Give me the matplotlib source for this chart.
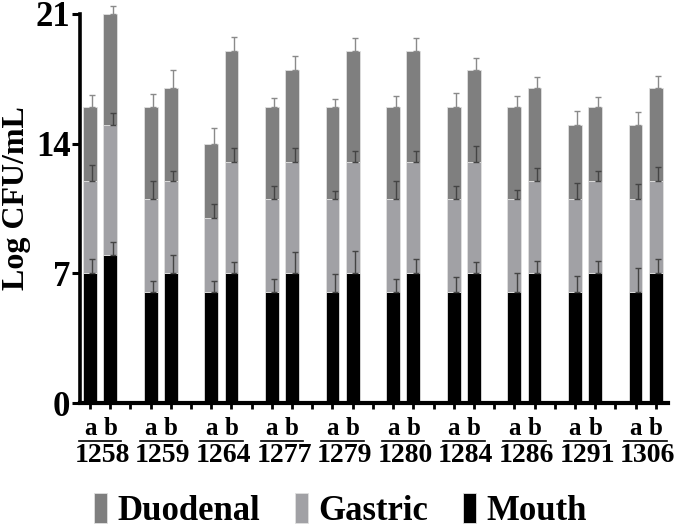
import numpy as np
import matplotlib
matplotlib.use('Agg')
import matplotlib.pyplot as plt
from matplotlib.transforms import blended_transform_factory

strains = ['1258', '1259', '1264', '1277', '1279', '1280', '1284', '1286', '1291', '1306']
# per strain: [a, b]
mouth = [[7, 8], [6, 7], [6, 7], [6, 7], [6, 7], [6, 7], [6, 7], [6, 7], [6, 7], [6, 7]]
gastric = [[5, 7], [5, 5], [4, 6], [5, 6], [5, 6], [5, 6], [5, 6], [5, 5], [5, 5], [5, 5]]
duodenal = [[4, 6], [5, 5], [4, 6], [5, 5], [5, 6], [5, 6], [5, 5], [5, 5], [4, 4], [4, 5]]
mouth_err = [[0.78, 0.7], [0.58, 1.0], [0.58, 0.6], [0.68, 1.13], [0.95, 1.2],
             [0.68, 0.8], [0.8, 0.6], [1.0, 0.65], [0.85, 0.65], [1.28, 0.8]]
gastric_err = [[0.86, 0.65], [1.0, 0.5], [0.72, 0.77], [0.7, 0.77], [0.45, 0.6],
               [1.0, 0.6], [0.7, 0.86], [0.5, 0.68], [0.88, 0.5], [0.83, 0.74]]
duodenal_err = [[0.65, 0.45], [0.7, 1.0], [0.86, 0.77], [0.45, 0.74], [0.4, 0.68],
                [0.6, 0.72], [0.74, 0.6], [0.56, 0.6], [0.76, 0.5], [0.7, 0.67]]
sub_labels = ['a', 'b']

plt.rcParams['font.family'] = ['Liberation Serif', 'DejaVu Serif']
plt.rcParams['font.weight'] = 'bold'
plt.rcParams['axes.labelweight'] = 'bold'

m = np.array(mouth, float).ravel()
g = np.array(gastric, float).ravel()
d = np.array(duodenal, float).ravel()
me = np.array(mouth_err).ravel()
ge = np.array(gastric_err).ravel()
de = np.array(duodenal_err).ravel()

n = len(strains)
x = np.array([[3 * i, 3 * i + 1] for i in range(n)], float).ravel()
w = 0.68

fig = plt.figure(figsize=(6.85, 5.3), dpi=100)
ax = fig.add_axes([0.117, 0.2396, 0.858, 0.734])

c_duo, c_gas, c_mou = '#7f7f7f', '#a1a1a5', '#000000'
ax.bar(x, m, w, color=c_mou, edgecolor='#e0e0e0', linewidth=0.6, label='Mouth', zorder=2)
ax.bar(x, g, w, bottom=m, color=c_gas, edgecolor='#e0e0e0', linewidth=0.6, label='Gastric', zorder=2)
ax.bar(x, d, w, bottom=m + g, color=c_duo, edgecolor='#e0e0e0', linewidth=0.6, label='Duodenal', zorder=2)

z = np.zeros_like(m)
for y0, e, col in [(m, me, '#444444'), (m + g, ge, '#444444'), (m + g + d, de, '#8a8a8a')]:
    eb = ax.errorbar(x + 0.12, y0, yerr=[z, e], fmt='none', ecolor=col, elinewidth=1,
                     capsize=2, capthick=1, zorder=3)
    for art in eb.lines[1] + eb.lines[2]:
        art.set_clip_on(False)

ax.set_ylim(0, 21)
ax.set_xlim(-0.49, 28.6)
ax.set_yticks([0, 7, 14, 21])
ax.tick_params(axis='y', labelsize=25, length=6, width=2.2, pad=1)
ax.set_xticks(np.arange(29))
ax.set_xticklabels([sub_labels[i % 3] if i % 3 < 2 else '' for i in range(29)])
ax.tick_params(axis='x', labelsize=18, length=4, width=2, pad=6)
for s in ['top', 'right']:
    ax.spines[s].set_visible(False)
ax.spines['left'].set_linewidth(2.6)
ax.spines['bottom'].set_linewidth(3)
ax.set_ylabel('Log CFU/mL', fontsize=23, fontweight='bold')
ax.yaxis.set_label_coords(-0.084, 0.527)

tr = blended_transform_factory(ax.transData, ax.transAxes)
for i, s in enumerate(strains):
    cx = 3 * i + 0.5
    ax.plot([cx - 1.05, cx + 1.05], [-0.097, -0.097], color='black', lw=1.2,
            transform=tr, clip_on=False)
    ax.text(cx + 0.1, -0.104, s, transform=tr, ha='center', va='top', fontsize=20)

h, l = ax.get_legend_handles_labels()
fig.legend(h[::-1], l[::-1], loc='center', bbox_to_anchor=(0.497, 0.036), ncol=3,
           frameon=False, fontsize=25, handlelength=0.38, handleheight=0.95,
           handletextpad=0.3, columnspacing=1.0, borderaxespad=0)

fig.savefig('out.png', dpi=100)
